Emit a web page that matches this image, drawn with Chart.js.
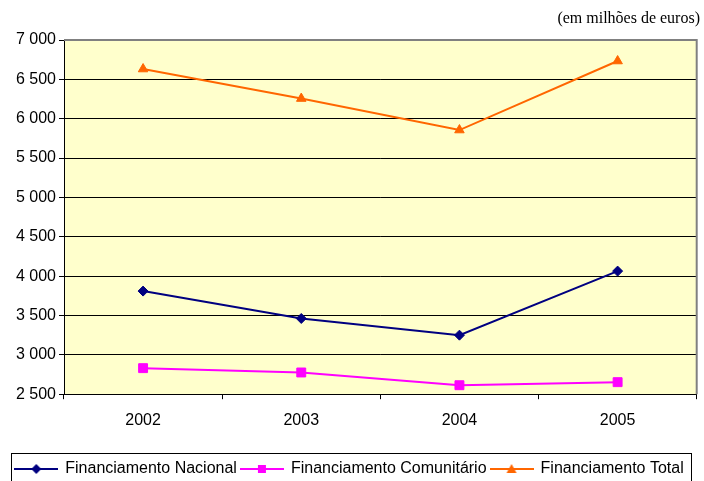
<!DOCTYPE html>
<html>
<head>
<meta charset="utf-8">
<script src="https://cdn.jsdelivr.net/npm/chart.js@4/dist/chart.umd.min.js"></script>
<style>
html,body{margin:0;padding:0;background:#fff;}
#wrap{position:relative;width:704px;height:481px;}
</style>
</head>
<body>
<div id="wrap"><canvas id="c" width="704" height="481"></canvas></div>
<script>
const categories = ['2002', '2003', '2004', '2005'];
const nacional = [3810, 3462, 3250, 4064];
const comunitario = [2831, 2776, 2614, 2653];
const total = [6631, 6256, 5856, 6733];
const seriesNames = ['Financiamento Nacional', 'Financiamento Comunitário', 'Financiamento Total'];
const unitLabel = '(em milhões de euros)';
const yMin = 2500, yMax = 7000, yStep = 500;

const colors = ['#000080', '#FF00FF', '#FF6600'];
const styles = ['rectRot', 'rect', 'triangle'];
const radii = [5, 6.3, 5.5];

function legendIcon(color, style) {
  const cv = document.createElement('canvas');
  cv.width = 44; cv.height = 14;
  const ctx = cv.getContext('2d');
  ctx.strokeStyle = color; ctx.lineWidth = 2;
  ctx.beginPath(); ctx.moveTo(0, 7); ctx.lineTo(44, 7); ctx.stroke();
  ctx.fillStyle = color;
  ctx.beginPath();
  if (style === 'rectRot') {
    ctx.moveTo(22, 2); ctx.lineTo(27, 7); ctx.lineTo(22, 12); ctx.lineTo(17, 7);
  } else if (style === 'rect') {
    ctx.rect(18, 3, 8, 8);
  } else {
    ctx.moveTo(22, 2); ctx.lineTo(27, 11); ctx.lineTo(17, 11);
  }
  ctx.closePath(); ctx.fill();
  return cv;
}
const icons = colors.map((c, i) => legendIcon(c, styles[i]));

const seriesData = [nacional, comunitario, total];
const datasets = seriesData.map((d, i) => ({
  label: seriesNames[i],
  data: d,
  borderColor: colors[i],
  backgroundColor: colors[i],
  borderWidth: 2,
  pointStyle: styles[i],
  pointRadius: radii[i],
  pointHoverRadius: radii[i],
  pointBackgroundColor: colors[i],
  pointBorderColor: colors[i],
  pointBorderWidth: 1,
  tension: 0,
  fill: false
}));

const bgPlugin = {
  id: 'bg',
  beforeDraw(chart) {
    const a = chart.chartArea, ctx = chart.ctx;
    ctx.save();
    ctx.fillStyle = '#FFFFCC';
    ctx.fillRect(a.left, a.top, a.right - a.left, a.bottom - a.top);
    ctx.restore();
  },
  beforeDatasetsDraw(chart) {
    const a = chart.chartArea, ctx = chart.ctx;
    ctx.save();
    ctx.strokeStyle = '#808080';
    ctx.lineWidth = 2;
    ctx.beginPath();
    ctx.moveTo(a.left, a.top);
    ctx.lineTo(a.right, a.top);
    ctx.lineTo(a.right, a.bottom);
    ctx.stroke();
    ctx.restore();
  },
  afterDraw(chart) {
    const ctx = chart.ctx;
    ctx.save();
    ctx.font = '16px "Liberation Serif", "Times New Roman", serif';
    ctx.fillStyle = '#000';
    ctx.textAlign = 'right';
    ctx.textBaseline = 'alphabetic';
    ctx.fillText(unitLabel, 700, 23);
    const lg = chart.legend;
    if (lg && lg.legendHitBoxes && lg.legendHitBoxes.length) {
      ctx.strokeStyle = '#000';
      ctx.lineWidth = 1;
      ctx.strokeRect(11.5, 453.5, 680, 40);
    }
    ctx.restore();
  }
};

new Chart(document.getElementById('c'), {
  type: 'line',
  data: { labels: categories, datasets },
  options: {
    responsive: false,
    animation: false,
    layout: { padding: { top: 40, right: 5, left: 0, bottom: -6 } },
    plugins: {
      title: { display: false },
      tooltip: { enabled: false },
      legend: {
        display: true,
        position: 'bottom',
        labels: {
          usePointStyle: true,
          pointStyleWidth: 42,
          padding: 4,
          color: '#000',
          font: { family: '"Liberation Sans", Arial, sans-serif', size: 16 },
          generateLabels(chart) {
            return chart.data.datasets.map((ds, i) => ({
              text: ds.label,
              pointStyle: icons[i],
              fillStyle: ds.borderColor,
              strokeStyle: ds.borderColor,
              lineWidth: 0,
              hidden: false,
              datasetIndex: i,
              fontColor: '#000'
            }));
          }
        }
      }
    },
    scales: {
      x: {
        offset: true,
        afterFit(s) { s.height = 62.8; },
        grid: { display: true, offset: true, drawOnChartArea: false, tickLength: 5, tickColor: '#000', color: '#000' },
        border: { display: true, color: '#000', width: 1 },
        ticks: { color: '#000', padding: 12, font: { family: '"Liberation Sans", Arial, sans-serif', size: 16 } }
      },
      y: {
        min: yMin, max: yMax,
        afterFit(s) { s.width = 64; },
        grid: {
          color: (c) => (c.tick && c.tick.value === yMax) ? 'rgba(0,0,0,0)' : '#000',
          lineWidth: 1,
          tickLength: 5,
          tickColor: '#000'
        },
        border: { display: true, color: '#000', width: 1 },
        ticks: {
          stepSize: yStep,
          padding: 3,
          color: '#000',
          font: { family: '"Liberation Sans", Arial, sans-serif', size: 16 },
          callback: (v) => String(v).replace(/\B(?=(\d{3})+(?!\d))/g, ' ')
        }
      }
    }
  },
  plugins: [bgPlugin]
});
</script>
</body>
</html>
